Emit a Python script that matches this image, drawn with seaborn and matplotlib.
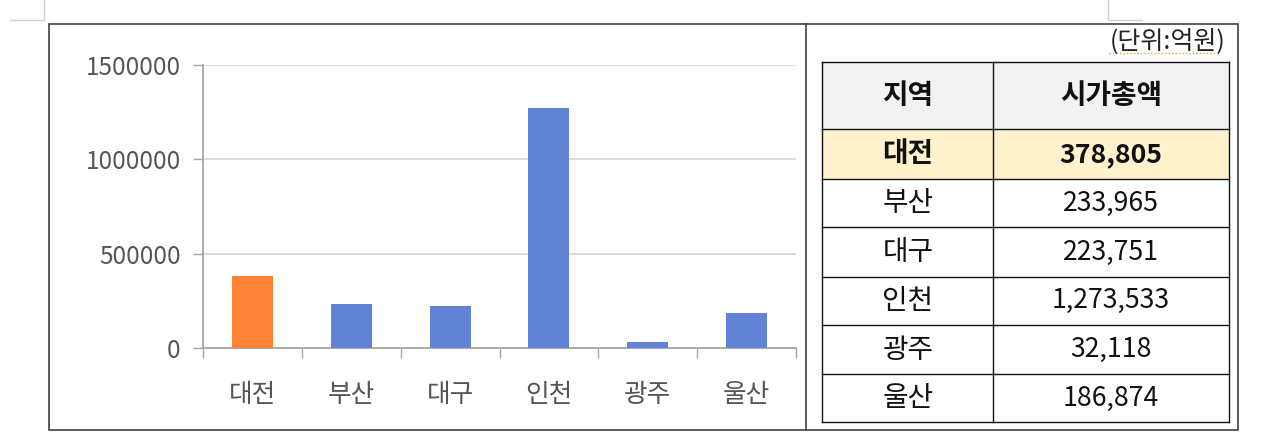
import matplotlib
matplotlib.use("Agg")
import matplotlib.pyplot as plt
import seaborn as sns
import pandas as pd
from matplotlib.patches import Rectangle

# ---- data ----
regions = ["대전", "부산", "대구", "인천", "광주", "울산"]
values = [378805, 233965, 223751, 1273533, 32118, 186874]
value_labels = ["378,805", "233,965", "223,751", "1,273,533", "32,118", "186,874"]
y_ticks = [0, 500000, 1000000, 1500000]
header = ["지역", "시가총액"]
unit_label = "(단위:억원)"
highlight = "대전"

plt.rcParams['font.family'] = ['Noto Sans CJK KR', 'DejaVu Sans']

W, H = 1263, 441
fig = plt.figure(figsize=(W / 100, H / 100), dpi=100)
fig.patch.set_facecolor("white")

# overlay in pixel coordinates for frame and table
ov = fig.add_axes([0, 0, 1, 1], zorder=0)
ov.set_xlim(0, W)
ov.set_ylim(H, 0)
ov.axis("off")

# ---- bar chart ----
ax_l, ax_r, ax_b, ax_t = 203, 796, 347.7, 65.3
ax = fig.add_axes([ax_l / W, (H - ax_b) / H, (ax_r - ax_l) / W, (ax_b - ax_t) / H], zorder=1)
ax.patch.set_alpha(0)
df = pd.DataFrame({"region": regions, "value": values})
palette = {r: ("#FF8235" if r == highlight else "#6282D6") for r in regions}
sns.barplot(data=df, x="region", y="value", hue="region", palette=palette,
            width=0.416, saturation=1, legend=False, ax=ax, zorder=3)
ax.set_xlim(-0.5, len(regions) - 0.5)
ax.set_ylim(0, max(y_ticks))
ax.set_xlabel("")
ax.set_ylabel("")
ax.set_yticks(y_ticks)
ax.set_yticklabels([str(v) for v in y_ticks])
ax.yaxis.grid(True, color="#D9D9D9", linewidth=1.3, zorder=0)
ax.set_axisbelow(True)
for s in ["top", "right"]:
    ax.spines[s].set_visible(False)
for s in ["left", "bottom"]:
    ax.spines[s].set_color("#A6A6A6")
    ax.spines[s].set_linewidth(1.3)
ax.tick_params(axis="y", which="major", left=True, length=7, width=1.0, color="#A6A6A6",
               labelsize=17.5, labelcolor="#555555", pad=9)
ax.tick_params(axis="x", which="major", bottom=True, length=0, labelsize=18.5,
               labelcolor="#555555", pad=24.5)
ax.set_xticks([i - 0.5 for i in range(len(regions) + 1)], minor=True)
ax.tick_params(axis="x", which="minor", bottom=True, length=7, width=1.0, color="#A6A6A6")

# ---- outer frame & marks ----
ov.add_patch(Rectangle((49, 24), 1238 - 49, 430 - 24, fill=False, edgecolor="#404040", linewidth=1.2))
ov.plot([806, 806], [24, 430], color="#404040", linewidth=1.2)
ov.plot([44, 44, 10], [0, 20, 20], color="#CFCFCF", linewidth=1.0)
ov.plot([1108, 1108, 1142], [0, 20, 20], color="#CFCFCF", linewidth=1.0)

# ---- table ----
ov.text(1225, 41, unit_label, ha="right", va="center", fontsize=18, color="#222222")
ov.plot([1109, 1217], [53, 53], color="#E8A040", linewidth=1.0, linestyle=(0, (1, 1.5)))

cx = [822.3, 993.3, 1229]
ry = [61.7, 129.3, 179.3, 227.3, 276.7, 325, 374, 422.3]
# header
for c in range(2):
    ov.add_patch(Rectangle((cx[c], ry[0]), cx[c + 1] - cx[c], ry[1] - ry[0],
                           facecolor="#F2F2F2", edgecolor="none"))
    ov.text((cx[c] + cx[c + 1]) / 2, (ry[0] + ry[1]) / 2, header[c], ha="center",
            va="center", fontsize=20, fontweight="bold", color="#111111")
for i, (r, lab) in enumerate(zip(regions, value_labels)):
    y0, y1 = ry[i + 1], ry[i + 2]
    hl = r == highlight
    if hl:
        ov.add_patch(Rectangle((cx[0], y0), cx[2] - cx[0], y1 - y0,
                               facecolor="#FFF2CC", edgecolor="none"))
    fw = "bold" if hl else "normal"
    ov.text((cx[0] + cx[1]) / 2, (y0 + y1) / 2, r, ha="center", va="center",
            fontsize=20, fontweight=fw, color="#111111")
    ov.text((cx[1] + cx[2]) / 2, (y0 + y1) / 2, lab, ha="center", va="center",
            fontsize=19.2, fontweight=fw, color="#111111")
for y in ry:
    ov.plot([cx[0], cx[2]], [y, y], color="#111111", linewidth=1.0)
for x in cx:
    ov.plot([x, x], [ry[0], ry[-1]], color="#111111", linewidth=1.0)

fig.savefig("out.png", dpi=100)
